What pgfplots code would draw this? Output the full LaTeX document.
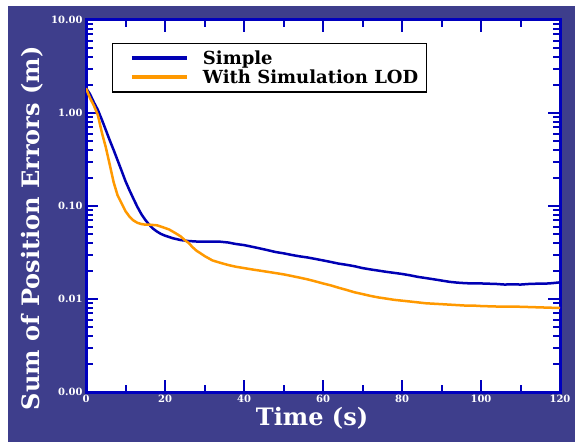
\documentclass[border=0pt]{standalone}
\usepackage{fontspec}
\setmainfont{DejaVu Serif}
\usepackage{pgfplots}
\pgfplotsset{compat=1.18}
\definecolor{bgblue}{RGB}{62,62,140}
\definecolor{axblue}{RGB}{0,0,190}
\definecolor{lineblue}{RGB}{0,0,180}
\definecolor{lineorange}{RGB}{255,153,0}
\begin{document}
\begin{tikzpicture}
    \fill[white] (0,0) rectangle (575pt,442pt);
    \fill[bgblue] (8pt,0) rectangle (575pt,436pt);
    \useasboundingbox (0,0) rectangle (575pt,442pt);
    \begin{axis}[
            at={(86pt,50pt)}, anchor=south west,
            scale only axis, width=474pt, height=372pt,
            xmin=0, xmax=120,
            ymode=log, ymin=0.001, ymax=10,
            axis background/.style={fill=white},
            axis line style={axblue, line width=3pt},
            every tick/.style={axblue, line width=2pt},
            major tick length=12pt, minor tick length=7pt,
            xtick={0,20,40,60,80,100,120},
            xticklabels={0,20,40,60,80,100,120},
            minor x tick num=1,
            ytick={0.001,0.01,0.1,1,10},
            yticklabels={0.00,0.01,0.10,1.00,10.00},
            /pgf/number format/assume math mode=true,
            ticklabel style={font=\fontsize{10}{12}\selectfont\bfseries, text=white},
            xlabel={Time (s)},
            ylabel={Sum of Position Errors (m)},
            label style={font=\fontsize{24}{28}\selectfont\bfseries, text=white},
            xlabel style={at={(axis description cs:0.477,-0.07)}, anchor=center},
            ylabel style={at={(axis description cs:-0.114,0.44)}, anchor=center},
            legend style={at={(0.055,0.938)}, anchor=north west, draw=black,
                line width=1.2pt, fill=white,
                font=\fontsize{18}{21}\selectfont\bfseries,
                cells={anchor=west}, column sep=12pt,
                inner xsep=6pt, inner ysep=5pt},
            legend image code/.code={
                \path (0pt,0pt);
                \draw[#1, line width=4pt] (12pt,0pt) -- (67pt,0pt);},
        ]
        \addplot [lineblue, line width=2.5pt, line join=round] coordinates {
                (0,1.85) (1,1.6) (2,1.3) (3,1.08) (4,0.85) (5,0.66) (6,0.51)
                (7,0.40) (8,0.31) (9,0.24) (10,0.185) (11,0.148) (12,0.12)
                (13,0.098) (14,0.082) (15,0.071) (16,0.063) (17,0.057)
                (18,0.053) (19,0.050) (20,0.048) (22,0.045) (24,0.043)
                (26,0.042) (28,0.0415) (30,0.0415) (32,0.0415) (34,0.0413)
                (36,0.0405) (38,0.039) (40,0.038) (42,0.0365) (44,0.035)
                (46,0.0335) (48,0.032) (50,0.031) (52,0.0298) (54,0.0288)
                (56,0.028) (58,0.027) (60,0.026) (62,0.025) (64,0.024)
                (66,0.0233) (68,0.0225) (70,0.0215) (72,0.0208) (74,0.0202)
                (76,0.0196) (78,0.0191) (80,0.0186) (82,0.018) (84,0.0173)
                (86,0.0168) (88,0.0163) (90,0.0158) (92,0.0153) (94,0.015)
                (96,0.0148) (98,0.0147) (100,0.0147) (102,0.0146) (104,0.0145)
                (106,0.0143) (108,0.0144) (110,0.0143) (112,0.0145) (114,0.0146)
                (116,0.0146) (118,0.0148) (120,0.0151)
            };
        \addlegendentry{Simple}
        \addplot [lineorange, line width=2.5pt, line join=round] coordinates {
                (0,1.85) (1,1.45) (2,1.2) (3,0.95) (4,0.62) (5,0.43) (6,0.28)
                (7,0.18) (8,0.13) (9,0.107) (10,0.088) (11,0.077) (12,0.070)
                (13,0.066) (14,0.064) (15,0.063) (16,0.063) (17,0.0625)
                (18,0.062) (19,0.060) (20,0.058) (21,0.056) (22,0.053)
                (23,0.050) (24,0.047) (25,0.043) (26,0.040) (27,0.036)
                (28,0.033) (29,0.031) (30,0.029) (32,0.026) (34,0.0245)
                (36,0.0232) (38,0.0222) (40,0.0215) (42,0.0208) (44,0.0202)
                (46,0.0196) (48,0.019) (50,0.0184) (52,0.0177) (54,0.0170)
                (56,0.0163) (58,0.0155) (60,0.0147) (62,0.014) (64,0.0132)
                (66,0.0125) (68,0.0118) (70,0.0113) (72,0.0108) (74,0.0104)
                (76,0.0101) (78,0.0098) (80,0.0096) (82,0.0094) (84,0.0092)
                (86,0.0090) (88,0.0089) (90,0.0088) (92,0.0087) (94,0.0086)
                (96,0.0085) (98,0.0085) (100,0.0084) (104,0.0083) (108,0.0083)
                (112,0.0082) (116,0.0081) (120,0.0080)
            };
        \addlegendentry{With Simulation LOD}
    \end{axis}
\end{tikzpicture}
\end{document}
